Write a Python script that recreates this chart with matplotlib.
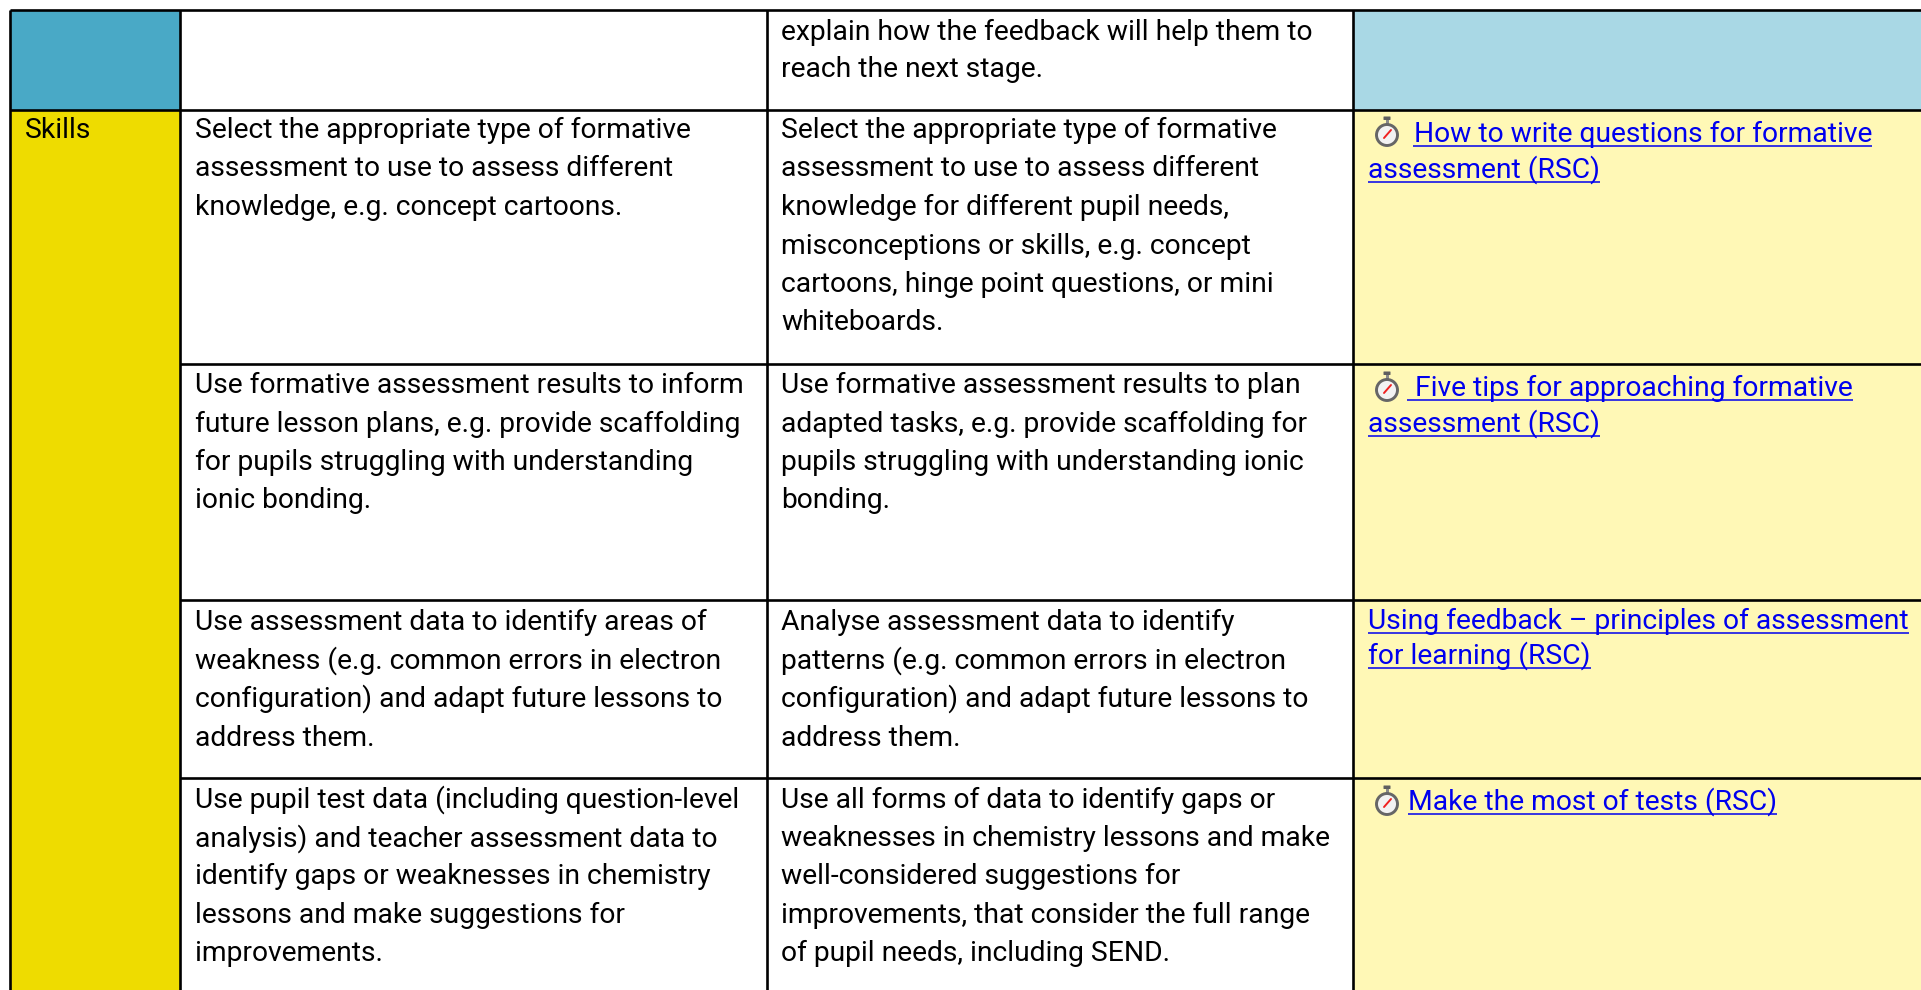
import matplotlib
matplotlib.use("Agg")
import matplotlib.pyplot as plt
from matplotlib.patches import Rectangle, Circle, FancyBboxPatch

FONT = "Roboto"
SIZE = 20.3
W, H = 1921, 990

col_edges = [10, 180, 767, 1353, 1921]
row_edges = [10, 110, 364, 600, 778, 990]
col_text_x = [25, 195, 781, 1368]
side_colors = ["#49A9C6", "#EEDC00"]
col4_colors = ["#A9D8E5", "#FFF8B6"]
LINK = "#0000EE"
GREY = "#666666"

side_label = "Skills"

col2_rows = [
    [],
    ["Select the appropriate type of formative",
     "assessment to use to assess different",
     "knowledge, e.g. concept cartoons."],
    ["Use formative assessment results to inform",
     "future lesson plans, e.g. provide scaffolding",
     "for pupils struggling with understanding",
     "ionic bonding."],
    ["Use assessment data to identify areas of",
     "weakness (e.g. common errors in electron",
     "configuration) and adapt future lessons to",
     "address them."],
    ["Use pupil test data (including question-level",
     "analysis) and teacher assessment data to",
     "identify gaps or weaknesses in chemistry",
     "lessons and make suggestions for",
     "improvements."],
]
col3_rows = [
    ["explain how the feedback will help them to",
     "reach the next stage."],
    ["Select the appropriate type of formative",
     "assessment to use to assess different",
     "knowledge for different pupil needs,",
     "misconceptions or skills, e.g. concept",
     "cartoons, hinge point questions, or mini",
     "whiteboards."],
    ["Use formative assessment results to plan",
     "adapted tasks, e.g. provide scaffolding for",
     "pupils struggling with understanding ionic",
     "bonding."],
    ["Analyse assessment data to identify",
     "patterns (e.g. common errors in electron",
     "configuration) and adapt future lessons to",
     "address them."],
    ["Use all forms of data to identify gaps or",
     "weaknesses in chemistry lessons and make",
     "well-considered suggestions for",
     "improvements, that consider the full range",
     "of pupil needs, including SEND."],
]
first_baseline = [40, 138, 393, 630, 808]
row_pitch = [37, 38.5, 38.5, 38.5, 38.2]

# link text: (text, x of text, x where underline starts, baseline)
links = [
    ("How to write questions for formative", 1414, 1413, 142),
    ("assessment (RSC)", 1368, 1368, 178),
    ("Five tips for approaching formative", 1415, 1407, 396),
    ("assessment (RSC)", 1368, 1368, 432),
    ("Using feedback \u2013 principles of assessment", 1368, 1368, 629),
    ("for learning (RSC)", 1368, 1368, 664),
    ("Make the most of tests (RSC)", 1408, 1408, 810),
]
stopwatch_cy = [135, 390, 804]
STOPWATCH_X = 1387

fig = plt.figure(figsize=(W / 100, H / 100), dpi=100, facecolor="white")
ax = fig.add_axes([0, 0, 1, 1])
ax.set_xlim(0, W)
ax.set_ylim(H, 0)
ax.axis("off")

# fills
ax.add_patch(Rectangle((col_edges[0], row_edges[0]), col_edges[1] - col_edges[0],
                       row_edges[1] - row_edges[0], fc=side_colors[0], ec="none"))
ax.add_patch(Rectangle((col_edges[0], row_edges[1]), col_edges[1] - col_edges[0],
                       row_edges[-1] - row_edges[1], fc=side_colors[1], ec="none"))
ax.add_patch(Rectangle((col_edges[3], row_edges[0]), col_edges[4] - col_edges[3],
                       row_edges[1] - row_edges[0], fc=col4_colors[0], ec="none"))
ax.add_patch(Rectangle((col_edges[3], row_edges[1]), col_edges[4] - col_edges[3],
                       row_edges[-1] - row_edges[1], fc=col4_colors[1], ec="none"))

# grid
LW = 1.9
for x in col_edges[:-1]:
    ax.plot([x, x], [row_edges[0], H], color="black", lw=LW, solid_capstyle="butt", zorder=3)
for i, y in enumerate(row_edges[:-1]):
    x0 = col_edges[0] if i < 2 else col_edges[1]
    ax.plot([x0, W], [y, y], color="black", lw=LW, solid_capstyle="butt", zorder=3)

def put(x, y, s, color="black"):
    return ax.text(x, y, s, family=FONT, fontsize=SIZE, color=color, ha="left", va="baseline", zorder=4)

put(col_text_x[0], first_baseline[1], side_label)
for lines, base, p in zip(col2_rows, first_baseline, row_pitch):
    for i, s in enumerate(lines):
        put(col_text_x[1], base + i * p, s)
for lines, base, p in zip(col3_rows, first_baseline, row_pitch):
    for i, s in enumerate(lines):
        put(col_text_x[2], base + i * p, s)

fig.canvas.draw()
rend = fig.canvas.get_renderer()
for s, tx, ux, base in links:
    t = put(tx, base, s, LINK)
    x1 = t.get_window_extent(rend).x1
    ax.plot([ux, x1], [base + 4, base + 4], color=LINK, lw=1.1, solid_capstyle="butt", zorder=4)

# stopwatch icons
for cy in stopwatch_cy:
    ax.add_patch(FancyBboxPatch((STOPWATCH_X - 3, cy - 18), 6, 2.5, boxstyle="round,pad=0.5",
                                fc="#5F5F5F", ec="none", zorder=5))
    ax.add_patch(Rectangle((STOPWATCH_X - 1.5, cy - 15), 3, 4, fc="#8A8A8A", ec="none", zorder=5))
    ax.add_patch(Circle((STOPWATCH_X, cy), 10.5, fc="#F2F2F2", ec=GREY, lw=2.1, zorder=5))
    ax.plot([STOPWATCH_X - 3, STOPWATCH_X + 4], [cy + 3, cy - 5], color="#F02020",
            lw=1.4, zorder=6, solid_capstyle="round")

fig.savefig("out.png", dpi=100, facecolor="white")
